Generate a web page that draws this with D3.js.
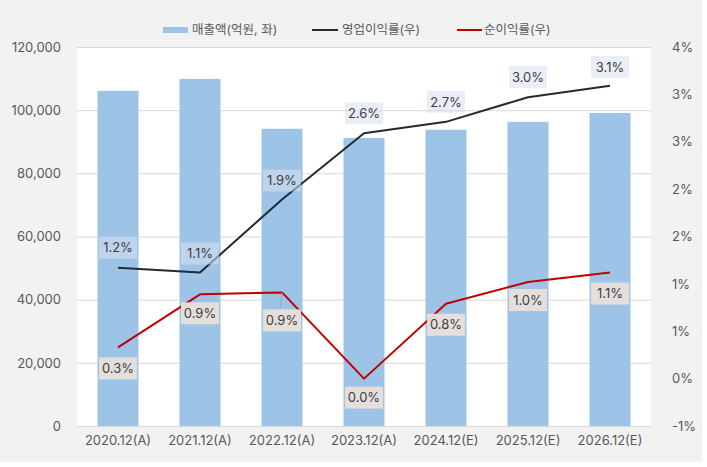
<!DOCTYPE html>
<html>
<head>
<meta charset="utf-8">
<script src="https://cdn.jsdelivr.net/npm/d3@7"></script>
<style>
  html, body { margin: 0; padding: 0; background: #ffffff; }
  svg { display: block; font-family: Inter, "Noto Sans CJK KR", "Noto Sans", sans-serif; }
</style>
</head>
<body>
<svg id="chart" width="707" height="467"></svg>
<script>
const categories = ["2020.12(A)", "2021.12(A)", "2022.12(A)", "2023.12(A)", "2024.12(E)", "2025.12(E)", "2026.12(E)"];
const revenue = [106100, 109900, 94100, 91200, 93800, 96300, 99100];
const opMargin = [1.17, 1.12, 1.89, 2.59, 2.71, 2.97, 3.09];
const netMargin = [0.33, 0.89, 0.91, 0.0, 0.79, 1.02, 1.12];
const leftTicks = [0, 20000, 40000, 60000, 80000, 100000, 120000];
const rightTicks = [-0.5, 0, 0.5, 1, 1.5, 2, 2.5, 3, 3.5];
const legendLabels = ["매출액(억원, 좌)", "영업이익률(우)", "순이익률(우)"];

const svg = d3.select("#chart");
const plot = { left: 77, right: 651, top: 47, bottom: 426 };
const textColor = "#595959";

svg.append("rect").attr("x", 0).attr("y", 0).attr("width", 702).attr("height", 462).attr("fill", "#f2f2f2");
svg.append("rect").attr("x", plot.left).attr("y", plot.top)
  .attr("width", plot.right - plot.left).attr("height", plot.bottom - plot.top).attr("fill", "#ffffff");

const x = d3.scaleBand().domain(categories).range([plot.left, plot.right]).paddingInner(0.5).paddingOuter(0.25);
const yL = d3.scaleLinear().domain([0, 120000]).range([plot.bottom, plot.top]);
const yR = d3.scaleLinear().domain([-0.5, 3.5]).range([plot.bottom, plot.top]);

// gridlines
const grid = svg.append("g").attr("transform", `translate(${plot.left},0)`)
  .call(d3.axisLeft(yL).tickValues(leftTicks).tickSize(-(plot.right - plot.left)).tickFormat(""));
grid.select(".domain").remove();
grid.selectAll("line").attr("stroke", "#d9d9d9").attr("stroke-width", 1);

// left axis
const gL = svg.append("g").attr("transform", `translate(${plot.left - 16},0)`)
  .call(d3.axisLeft(yL).tickValues(leftTicks).tickSize(0).tickPadding(0).tickFormat(d3.format(",")));
gL.select(".domain").remove();
gL.selectAll("text").attr("fill", textColor).attr("font-size", 13).attr("font-family", "Inter, sans-serif");

// right axis
const fmtR = v => (Math.sign(v) * Math.round(Math.abs(v))) + "%";
const gR = svg.append("g").attr("transform", `translate(${plot.right + 21},0)`)
  .call(d3.axisRight(yR).tickValues(rightTicks).tickSize(0).tickPadding(0).tickFormat(fmtR));
gR.select(".domain").remove();
gR.selectAll("text").attr("fill", textColor).attr("font-size", 13).attr("font-family", "Inter, sans-serif");

// bottom axis
const gB = svg.append("g").attr("transform", `translate(0,${plot.bottom + 14})`)
  .call(d3.axisBottom(x).tickSize(0).tickPadding(0));
gB.select(".domain").remove();
gB.selectAll("text").attr("fill", textColor).attr("font-size", 13).attr("dy", "0.35em").attr("font-family", "Inter, sans-serif");

// bars
svg.append("g").selectAll("rect").data(revenue).join("rect")
  .attr("x", (d, i) => x(categories[i]))
  .attr("y", d => yL(d))
  .attr("width", x.bandwidth())
  .attr("height", d => yL(0) - yL(d))
  .attr("fill", "#9dc3e6");

const cx = i => x(categories[i]) + x.bandwidth() / 2;

// lines
const line = d3.line().x((d, i) => cx(i)).y(d => yR(d));
svg.append("path").datum(opMargin).attr("d", line).attr("fill", "none")
  .attr("stroke", "#222a35").attr("stroke-width", 2).attr("stroke-linejoin", "round");
svg.append("path").datum(netMargin).attr("d", line).attr("fill", "none")
  .attr("stroke", "#c00000").attr("stroke-width", 2).attr("stroke-linejoin", "round");

// data labels
function labels(values, dyArr, fill, opacity) {
  const g = svg.append("g");
  values.forEach((v, i) => {
    const px = cx(i), py = yR(v) + dyArr[i];
    if (Math.abs(dyArr[i]) > 24) {
      g.append("line").attr("x1", cx(i)).attr("y1", yR(v)).attr("x2", px - 2).attr("y2", py - 11)
        .attr("stroke", "#a6a6a6").attr("stroke-width", 1);
    }
    g.append("rect").attr("x", px - 19).attr("y", py - 11).attr("width", 38).attr("height", 22)
      .attr("fill", fill).attr("fill-opacity", opacity);
    g.append("text").attr("x", px).attr("y", py).attr("dy", "0.36em").attr("text-anchor", "middle")
      .attr("font-size", 13).attr("fill", "#404040").text(v.toFixed(1) + "%");
  });
}
labels(opMargin, [-20, -19, -19, -20, -20, -20, -19], "#d8e1f1", 0.55);
labels(netMargin, [21, 19, 28, 19, 21, 18, 21], "#e9e0db", 0.95);

// legend
const lg = svg.append("g");
lg.append("rect").attr("x", 163).attr("y", 27).attr("width", 25).attr("height", 6).attr("fill", "#9dc3e6");
lg.append("text").attr("x", 192).attr("y", 30).attr("dy", "0.35em").attr("font-size", 12.5).attr("fill", textColor).text(legendLabels[0]);
lg.append("line").attr("x1", 312).attr("x2", 338).attr("y1", 30).attr("y2", 30).attr("stroke", "#222a35").attr("stroke-width", 2);
lg.append("text").attr("x", 342).attr("y", 30).attr("dy", "0.35em").attr("font-size", 12.5).attr("fill", textColor).text(legendLabels[1]);
lg.append("line").attr("x1", 457).attr("x2", 482).attr("y1", 30).attr("y2", 30).attr("stroke", "#c00000").attr("stroke-width", 2);
lg.append("text").attr("x", 484).attr("y", 30).attr("dy", "0.35em").attr("font-size", 12.5).attr("fill", textColor).text(legendLabels[2]);
</script>
</body>
</html>
